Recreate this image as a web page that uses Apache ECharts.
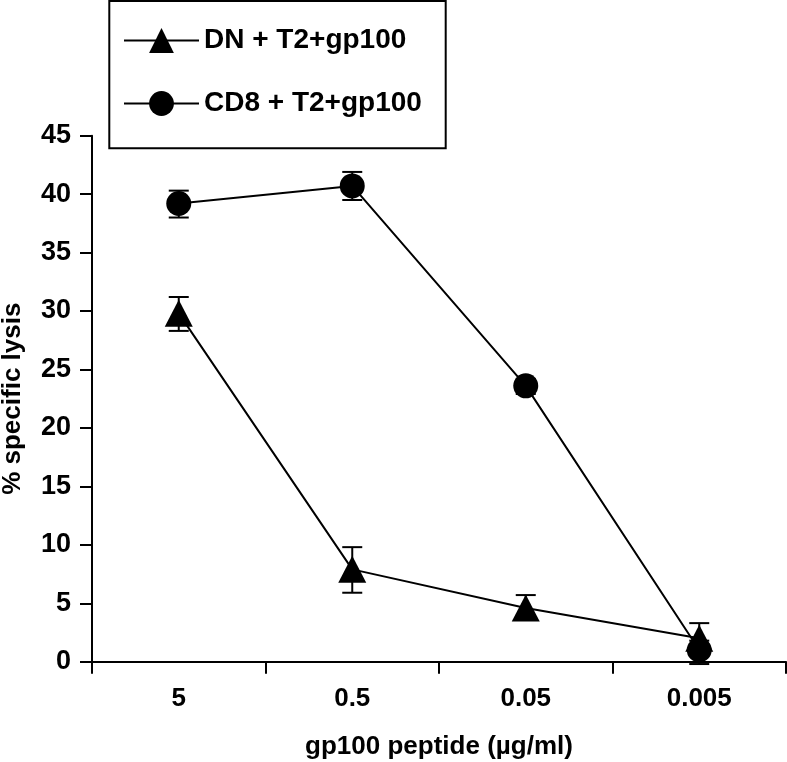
<!DOCTYPE html>
<html>
<head>
<meta charset="utf-8">
<script src="https://cdn.jsdelivr.net/npm/echarts@6/dist/echarts.min.js"></script>
<style>
html,body{margin:0;padding:0;background:#fff;}
#chart{width:787px;height:762px;}
</style>
</head>
<body>
<div id="chart"></div>
<script>
var categories = ['5', '0.5', '0.05', '0.005'];
var yTicks = [0, 5, 10, 15, 20, 25, 30, 35, 40, 45];
var dnName = 'DN + T2+gp100';
var dnValues = [29.8, 7.9, 4.6, 2.0];
var dnLower = [28.3, 5.9, 3.6, 0.8];
var dnUpper = [31.2, 9.8, 5.7, 3.3];
var cd8Name = 'CD8 + T2+gp100';
var cd8Values = [39.2, 40.7, 23.6, 1.0];
var cd8Lower = [38.0, 39.5, 22.9, -0.2];
var cd8Upper = [40.3, 41.9, 24.2, 1.8];

var FONT = '"Liberation Sans", Arial, Helvetica, sans-serif';

function errData(lo, hi) {
  return categories.map(function (c, i) { return [i, lo[i], hi[i]]; });
}
function renderErr(params, api) {
  var x = api.value(0);
  var lo = api.coord([x, api.value(1)]);
  var hi = api.coord([x, api.value(2)]);
  var hw = 10;
  var st = { stroke: '#000', lineWidth: 2 };
  return {
    type: 'group',
    children: [
      { type: 'line', shape: { x1: lo[0], y1: lo[1], x2: hi[0], y2: hi[1] }, style: st },
      { type: 'line', shape: { x1: hi[0] - hw, y1: hi[1], x2: hi[0] + hw, y2: hi[1] }, style: st },
      { type: 'line', shape: { x1: lo[0] - hw, y1: lo[1], x2: lo[0] + hw, y2: lo[1] }, style: st }
    ]
  };
}

var chart = echarts.init(document.getElementById('chart'), null, { renderer: 'canvas' });
chart.setOption({
  animation: false,
  backgroundColor: '#fff',
  grid: { left: 92, right: 1, top: 135.7, bottom: 100.3, containLabel: false, outerBoundsMode: 'none' },
  graphic: [{
    type: 'rect',
    shape: { x: 109.3, y: 1, width: 336.4, height: 147.3 },
    style: { fill: 'none', stroke: '#000', lineWidth: 2 },
    z: 10
  }],
  legend: {
    orient: 'vertical',
    left: 123,
    top: 26.5,
    padding: 0,
    itemWidth: 75,
    itemHeight: 31,
    itemGap: 35,
    textStyle: { color: '#000', fontSize: 28, fontWeight: 'bold', fontFamily: FONT },
    data: [dnName, cd8Name]
  },
  xAxis: {
    type: 'category',
    data: categories,
    boundaryGap: true,
    name: 'gp100 peptide (\u00b5g/ml)',
    nameLocation: 'middle',
    nameGap: 72,
    nameTextStyle: { color: '#000', fontSize: 26, fontWeight: 'bold', fontFamily: FONT },
    axisLine: { lineStyle: { color: '#000', width: 2 } },
    axisTick: { show: true, length: 12, interval: 0, lineStyle: { color: '#000', width: 2 } },
    axisLabel: { color: '#000', fontSize: 26, fontWeight: 'bold', fontFamily: FONT, margin: 24, interval: 0 },
    splitLine: { show: false }
  },
  yAxis: {
    type: 'value',
    min: yTicks[0],
    max: yTicks[yTicks.length - 1],
    interval: 5,
    name: '% specific lysis',
    nameLocation: 'middle',
    nameGap: 66,
    nameTextStyle: { color: '#000', fontSize: 26, fontWeight: 'bold', fontFamily: FONT },
    axisLine: { show: true, lineStyle: { color: '#000', width: 2 } },
    axisTick: { show: true, length: 12, lineStyle: { color: '#000', width: 2 } },
    axisLabel: { color: '#000', fontSize: 27, fontWeight: 'bold', fontFamily: FONT, margin: 21 },
    splitLine: { show: false }
  },
  series: [
    {
      type: 'custom', name: 'dnErr', renderItem: renderErr, data: errData(dnLower, dnUpper), z: 2,
      encode: { x: 0, y: [1, 2] }, silent: true
    },
    {
      type: 'custom', name: 'cd8Err', renderItem: renderErr, data: errData(cd8Lower, cd8Upper), z: 2,
      encode: { x: 0, y: [1, 2] }, silent: true
    },
    {
      name: dnName, type: 'line', data: dnValues, z: 3,
      symbol: 'triangle', symbolSize: [28, 27],
      lineStyle: { color: '#000', width: 2 },
      itemStyle: { color: '#000' }
    },
    {
      name: cd8Name, type: 'line', data: cd8Values, z: 3,
      symbol: 'circle', symbolSize: 25,
      lineStyle: { color: '#000', width: 2 },
      itemStyle: { color: '#000' }
    }
  ]
});
</script>
</body>
</html>
